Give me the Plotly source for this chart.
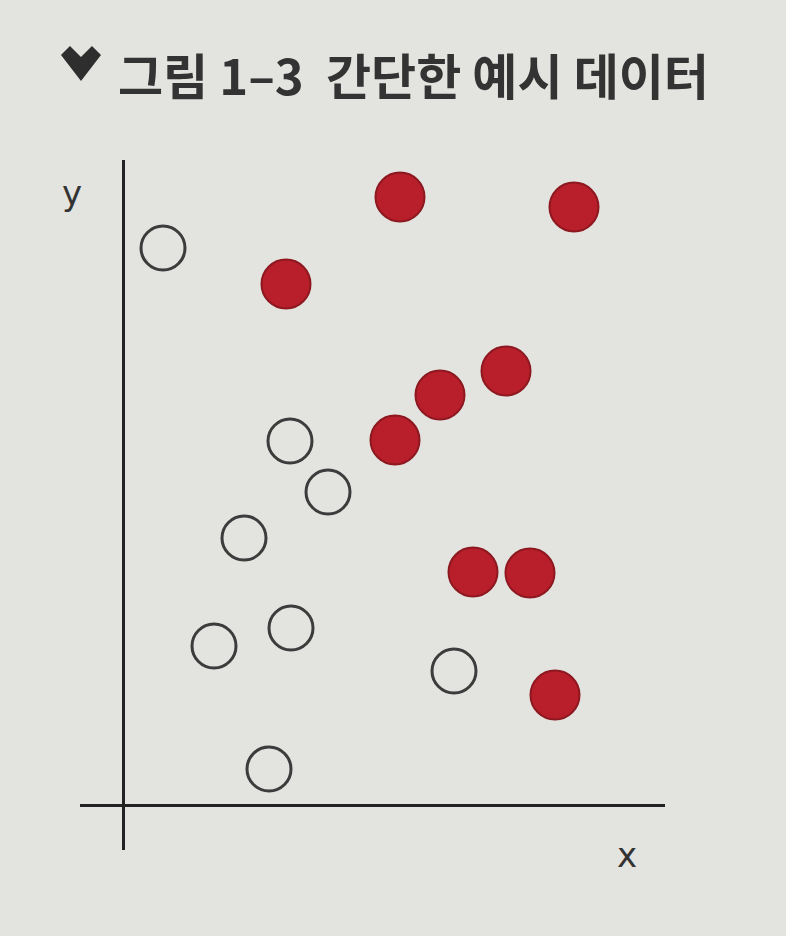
import plotly.graph_objects as go

# Data (arbitrary units, origin at axis crossing)
open_x = [4.0, 16.7, 20.5, 12.1, 9.1, 16.8, 33.1, 14.6]
open_y = [55.7, 36.4, 31.3, 26.7, 15.9, 17.7, 13.4, 3.6]
red_x = [27.7, 45.1, 16.3, 38.3, 31.7, 27.2, 35.0, 40.7, 43.2]
red_y = [60.8, 59.8, 52.1, 43.4, 41.0, 36.5, 23.3, 23.2, 11.0]

title_text = "그림 1–3  간단한 예시 데이터"
x_label = "x"
y_label = "y"

W, H = 786, 936
L, R, T, B = 80, 665, 160, 850
bg = "#e3e3e0"

fig = go.Figure()
fig.add_trace(go.Scatter(
    x=open_x, y=open_y, mode="markers",
    marker=dict(size=44, color=bg, line=dict(color="#3c3c3c", width=3)),
    showlegend=False, cliponaxis=False))
fig.add_trace(go.Scatter(
    x=red_x, y=red_y, mode="markers",
    marker=dict(size=49, color="#b81f2b", line=dict(color="#8e1820", width=2)),
    showlegend=False, cliponaxis=False))

fig.update_xaxes(range=[(L - 123) / 10, (R - 123) / 10], showgrid=False,
                 zeroline=True, zerolinecolor="#222", zerolinewidth=3,
                 showticklabels=False, ticks="", showline=False, fixedrange=True)
fig.update_yaxes(range=[(805 - B) / 10, (805 - T) / 10], showgrid=False,
                 zeroline=True, zerolinecolor="#222", zerolinewidth=3,
                 showticklabels=False, ticks="", showline=False, fixedrange=True)

def px(xp):
    return (xp - L) / (R - L)

def py(yp):
    return (B - yp) / (B - T)

# chevron icon
pts = [(61, 55), (70, 46), (81, 57), (92, 46), (101, 55), (81, 81)]
path = "M " + " L ".join(f"{px(a):.5f},{py(b):.5f}" for a, b in pts) + " Z"
fig.add_shape(type="path", path=path, xref="paper", yref="paper",
              fillcolor="#2e2e2e", line=dict(width=0))

font_ko = "Noto Sans CJK KR, Noto Sans, sans-serif"
fig.add_annotation(text="<b>" + title_text + "</b>", xref="paper", yref="paper",
                   x=px(116), y=py(74), xanchor="left", yanchor="middle",
                   showarrow=False, font=dict(family=font_ko, size=49, color="#333"))
fig.add_annotation(text=y_label, xref="paper", yref="paper",
                   x=px(72), y=py(193), xanchor="center", yanchor="middle",
                   showarrow=False, font=dict(family="DejaVu Sans", size=34, color="#333"))
fig.add_annotation(text=x_label, xref="paper", yref="paper",
                   x=px(627), y=py(855), xanchor="center", yanchor="middle",
                   showarrow=False, font=dict(family="DejaVu Sans", size=34, color="#333"))

fig.update_layout(width=W, height=H, margin=dict(l=L, r=W - R, t=T, b=H - B),
                  paper_bgcolor=bg, plot_bgcolor=bg, showlegend=False)
fig.write_html("out.html", config={"displayModeBar": False},
               post_script="document.body.style.margin='0';"
                           "document.body.style.background='" + bg + "';")
